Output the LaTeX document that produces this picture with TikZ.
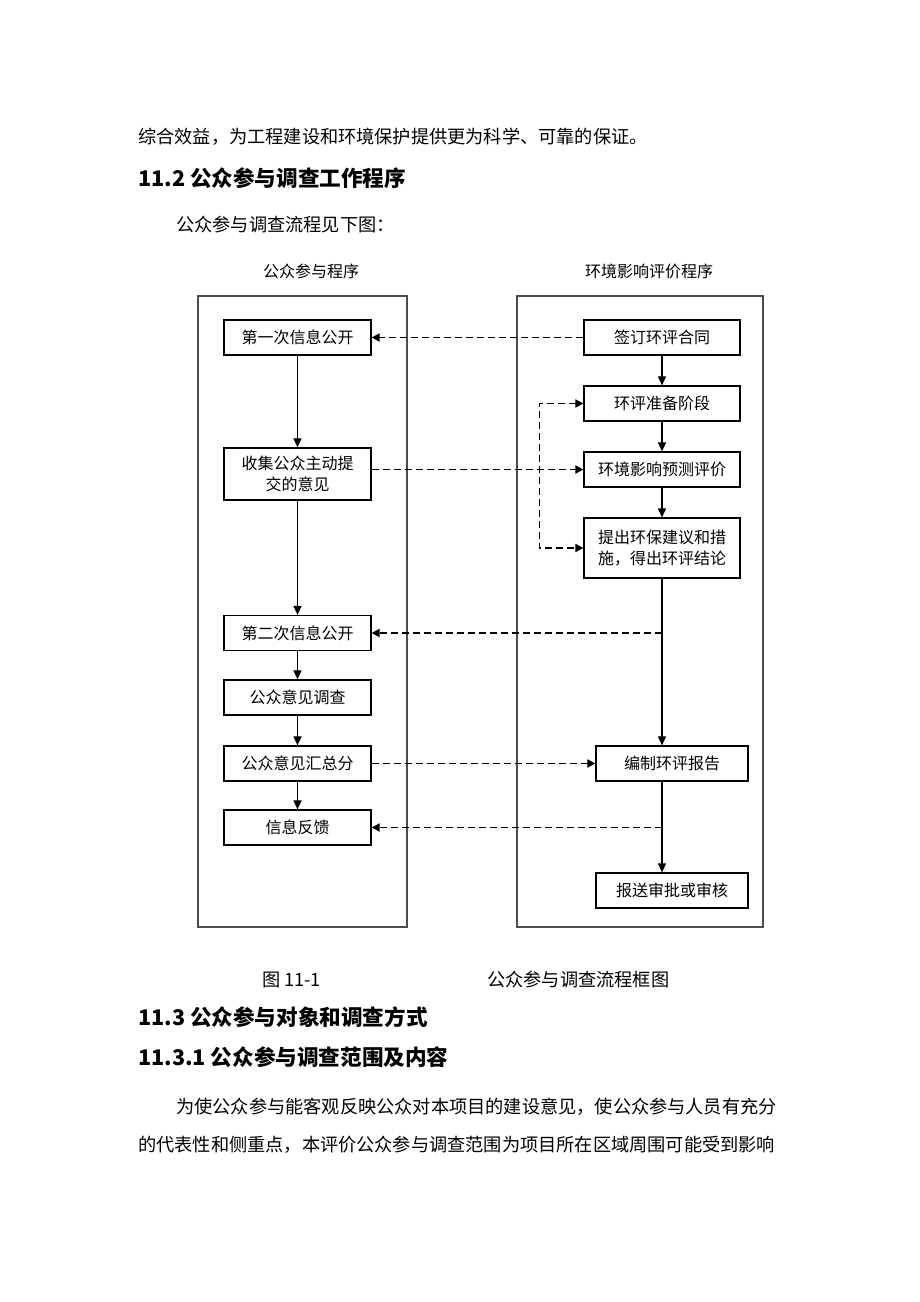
\documentclass[tikz,border=0pt]{standalone}
\usepackage{fontspec}
\setmainfont{Noto Sans CJK SC}
\usetikzlibrary{arrows.meta, positioning}

\newcommand{\bodyfont}{\fontsize{18.2}{22}\selectfont}
\newcommand{\headfont}{\fontsize{21.6}{26}\selectfont\bfseries}
\newcommand{\boxfont}{\fontsize{16}{21}\selectfont}

\tikzset{
  box/.style={draw, line width=1.2pt, minimum height=35pt, inner sep=0pt, font=\boxfont, align=center},
  lbox/.style={box, minimum width=147pt},
  rbox/.style={box, minimum width=156pt},
  flow/.style={line width=1.3pt, -{Triangle[length=9pt,width=8pt]}},
  link/.style={line width=1.8pt, dash pattern=on 7pt off 4pt, -{Triangle[length=8pt,width=8pt]}},
  twolink/.style={line width=1.8pt, dash pattern=on 7pt off 4pt, {Triangle[length=8pt,width=8pt]}-{Triangle[length=8pt,width=8pt]}},
  frame/.style={draw=black!70, line width=1.1pt},
  line/.style={anchor=west, inner sep=0pt},
}

\begin{document}
\begin{tikzpicture}[x=1pt, y=-1pt]
	\useasboundingbox (0,0) rectangle (920,1302);
	% text above the figure
	\node[line, font=\bodyfont] (intro) at (138,137) {综合效益，为工程建设和环境保护提供更为科学、可靠的保证。};
	\node[line, font=\headfont] (sec112) at (138,178) {11.2 公众参与调查工作程序};
	\node[line, font=\bodyfont] (see) at (176,225) {公众参与调查流程见下图：};

	% the two columns
	\node[font=\boxfont] (ltitle) at (311,271) {公众参与程序};
	\node[font=\boxfont] (rtitle) at (649,271) {环境影响评价程序};
	\draw[frame] (198,296) rectangle (407,927);
	\draw[frame] (517,296) rectangle (763,927);

	% public participation
	\node[lbox] (pub1) at (297.5,337.5) {第一次信息公开};
	\node[lbox, minimum height=52pt] (collect) at (297.5,474) {收集公众主动提\\交的意见};
	\node[lbox] (pub2) at (297.5,633) {第二次信息公开};
	\node[lbox] (survey) at (297.5,697.5) {公众意见调查};
	\node[lbox] (summary) at (297.5,763.5) {公众意见汇总分};
	\node[lbox] (feedback) at (297.5,827.5) {信息反馈};

	% assessment
	\node[rbox] (contract) at (662,337.5) {签订环评合同};
	\node[rbox] (prep) at (662,403.5) {环评准备阶段};
	\node[rbox] (predict) at (662,469.5) {环境影响预测评价};
	\node[rbox, minimum height=60pt] (measure) at (662,548) {提出环保建议和措\\施，得出环评结论};
	\node[box, minimum width=152pt] (report) at (672,763.5) {编制环评报告};
	\node[box, minimum width=152pt] (submit) at (672,890.5) {报送审批或审核};

	\coordinate (tap2) at (measure.south |- pub2.east);
	\coordinate (tap3) at (measure.south |- feedback.east);

	\draw[flow] (pub1) -- (collect);
	\draw[flow] (collect) -- (pub2);
	\draw[flow] (pub2) -- (survey);
	\draw[flow] (survey) -- (summary);
	\draw[flow] (summary) -- (feedback);

	\draw[flow] (contract) -- (prep);
	\draw[flow] (prep) -- (predict);
	\draw[flow] (predict) -- (measure);
	\draw[flow] (measure.south) -- (measure.south |- report.north);
	\draw[flow] (measure.south |- report.south) -- (measure.south |- submit.north);

	\draw[link] (contract) -- (pub1);
	\draw[link] (collect.east |- predict.west) -- (predict.west);
	\draw[twolink] (prep.west) -- ++(-44,0) |- (measure.west);
	\draw[link] (tap2) -- (pub2.east);
	\draw[link] (summary) -- (report);
	\draw[link] (tap3) -- (feedback.east);

	% caption and text below
	\node[line, font=\bodyfont] (fig) at (262,980) {图 11-1};
	\node[line, font=\bodyfont] (figname) at (487,980) {公众参与调查流程框图};
	\node[line, font=\headfont] (sec113) at (138,1017) {11.3 公众参与对象和调查方式};
	\node[line, font=\headfont] (sec1131) at (138,1057) {11.3.1 公众参与调查范围及内容};
	\node[line, font=\bodyfont] (par1) at (176,1107) {为使公众参与能客观反映公众对本项目的建设意见，使公众参与人员有充分};
	\node[line, font=\bodyfont] (par2) at (138,1145) {的代表性和侧重点，本评价公众参与调查范围为项目所在区域周围可能受到影响};
\end{tikzpicture}
\end{document}
